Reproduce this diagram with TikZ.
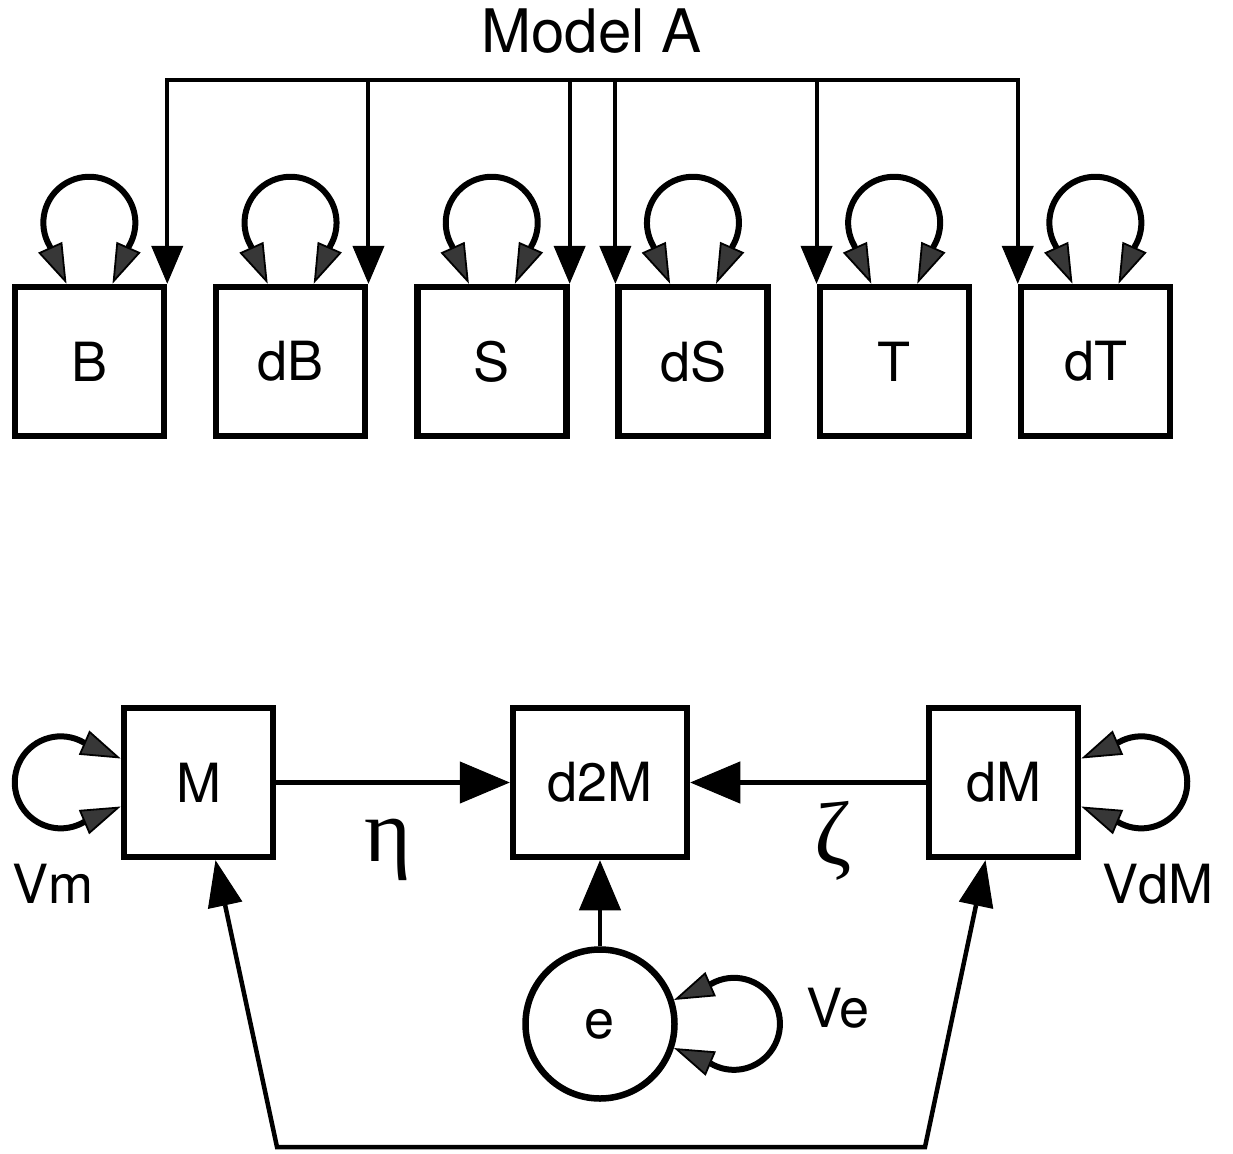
\documentclass[tikz,border=0pt]{standalone}
\usepackage{fontspec}
\setmainfont{TeX Gyre Heros}
\newfontfamily\greekfont{Liberation Serif}
\usetikzlibrary{arrows.meta,calc}
\definecolor{tipgray}{RGB}{55,55,55}

\tikzset{
  droptip/.tip={Triangle[length=38pt,width=32pt,line width=1pt]},
  bigtip/.tip={Triangle[length=50pt,width=42pt,line width=1pt]},
  covtip/.tip={Triangle[length=46pt,width=35pt,line width=1pt]},
  looptip/.tip={Triangle[length=40pt,width=26pt,fill=tipgray,line width=1.8pt]},
  varbox/.style={draw, line width=6.5pt, minimum width=149pt, minimum height=149pt,
    inner sep=0pt, font=\fontsize{54}{60}\selectfont},
  errcirc/.style={draw, circle, line width=6.5pt, minimum size=149pt, inner sep=0pt,
    font=\fontsize{54}{60}\selectfont},
  lbl/.style={inner sep=0pt, font=\fontsize{54}{60}\selectfont},
  greek/.style={inner sep=0pt, font=\greekfont\fontsize{90}{96}\selectfont},
  bus/.style={line width=4pt, line join=miter},
  path/.style={line width=4.5pt, line join=miter},
  selfloop/.style={line width=6pt, looptip-looptip},
}

\begin{document}
\begin{tikzpicture}[x=1pt,y=-1pt]
\useasboundingbox (0,0) rectangle (1233,1153);

% ---- top row: Model A ----
\node[inner sep=0pt, anchor=base, font=\fontsize{60}{66}\selectfont] (title) at (591.5,53) {Model A};
\node[varbox] (B)  at (89.5,361.5)  {B};
\node[varbox] (dB) at (290.7,361.5) {dB};
\node[varbox] (S)  at (491.9,361.5) {S};
\node[varbox] (dS) at (693.1,361.5) {dS};
\node[varbox] (T)  at (894.3,361.5) {T};
\node[varbox] (dT) at (1095.5,361.5) {dT};

\coordinate (busy) at (600,80);
\draw[bus, droptip-droptip] (B.north east) -- (B.north east |- busy)
  -- (dT.north west |- busy) -- (dT.north west);
\foreach \c in {dB.north east, S.north east, dS.north west, T.north west}
  \draw[bus, -droptip] (\c |- busy) -- (\c);

\foreach \n in {B,dB,S,dS,T,dT}
  \draw[selfloop] ([xshift=-23pt]\n.north) -- ++(-17,-38)
    arc[start angle=150, end angle=390, radius=46] -- ([xshift=23pt]\n.north);

% ---- bottom: M, dM and d2M ----
\node[varbox] (M)   at (198.5,782.5)  {M};
\node[varbox, minimum width=174pt] (d2M) at (600,782.5) {d2M};
\node[varbox] (dM)  at (1003.5,782.5) {dM};
\node[errcirc] (e)  at (600,1024) {e};

\draw[path, -bigtip] (M.east) -- (d2M.west);
\draw[path, -bigtip] (dM.west) -- (d2M.east);
\draw[path, -bigtip] (e.north) -- (d2M.south);

\coordinate (cornerL) at (277,1147);
\coordinate (cornerR) at (925,1147);
\draw[path, covtip-covtip] ([xshift=17pt]M.south) -- (cornerL) -- (cornerR)
  -- ([xshift=-18pt]dM.south);

\draw[selfloop] ([yshift=24pt]M.west) -- ++(-37,-16)
  arc[start angle=-60, end angle=-300, radius=46] -- ([yshift=-24pt]M.west);
\draw[selfloop] ([yshift=24pt]dM.east) -- ++(37,-16)
  arc[start angle=240, end angle=480, radius=46] -- ([yshift=-24pt]dM.east);
\draw[selfloop] (e.18) -- ++(37,-16)
  arc[start angle=240, end angle=480, radius=46] -- (e.-18);

\node[greek] (eta)  at (388,850) {η};
\node[greek] (zeta) at (833,841) {ζ};
\node[lbl, anchor=base] (Vm)  at (53,903)   {Vm};
\node[lbl, anchor=base] (VdM) at (1158,903) {VdM};
\node[lbl, anchor=base] (Ve)  at (838,1027) {Ve};
\end{tikzpicture}
\end{document}
